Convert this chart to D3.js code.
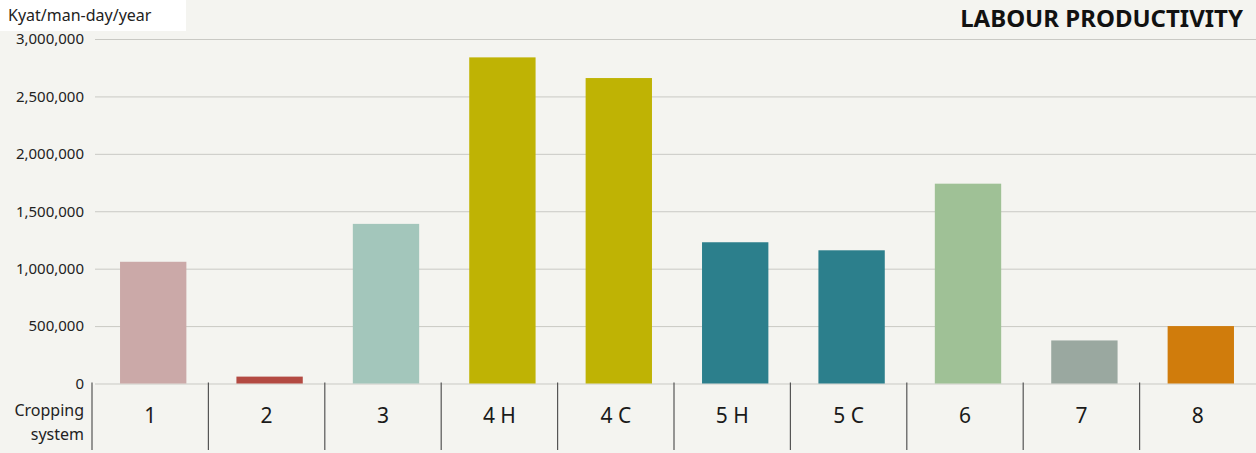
<!DOCTYPE html>
<html lang="en">
<head>
    <meta charset="UTF-8">
    <title>Labour productivity</title>
    <style>
        body { margin: 0; background: #f4f4f0; }
        svg { display: block; font-family: "Noto Sans", "Open Sans", sans-serif; }
    </style>
</head>
<body>
    <script src="https://d3js.org/d3.v7.min.js"></script>
    <script>
        // data
        let systems = ['1', '2', '3', '4 H', '4 C', '5 H', '5 C', '6', '7', '8'];
        let values = [1060000, 60000, 1390000, 2840000, 2660000, 1230000, 1160000, 1740000, 375000, 500000];
        let colors = ['#cba9a8', '#b34a42', '#a3c6bb', '#bfb304', '#bfb304', '#2c7f8c', '#2c7f8c', '#9fc196', '#9aa8a0', '#d07c0c'];
        let yTicks = [0, 500000, 1000000, 1500000, 2000000, 2500000, 3000000];

        let W = 1256, H = 453;
        let m = { t: 39, l: 92, r: 0, b: 70 };
        let base = 383.5;
        let shift = 3; // bars sit a little right of the band centre

        let s = d3.select('body').append('svg')
            .attr('width', W)
            .attr('height', H);

        s.append('rect').attr('width', W).attr('height', H).attr('fill', '#f4f4f0');

        let x = d3.scaleBand().domain(systems).range([m.l, W - m.r]).paddingInner(0.43).paddingOuter(0.215);
        let y = d3.scaleLinear().domain([0, 3000000]).range([base, m.t]);

        // gridlines + tick labels
        let yAxis = s.append('g')
            .attr('transform', `translate(${m.l},0)`)
            .call(d3.axisLeft(y).tickValues(yTicks).tickSize(-(W - m.l)).tickFormat(d3.format(',')).tickPadding(8));
        yAxis.select('.domain').remove();
        yAxis.selectAll('.tick line').attr('stroke', '#c9c9c4').attr('stroke-width', 1).attr('x1', 3);
        yAxis.selectAll('.tick text').attr('fill', '#222').style('font-size', '15px')
            .attr('font-family', '"Noto Sans", sans-serif');

        // bars
        s.selectAll('.bar')
            .data(systems)
            .enter().append('rect')
            .attr('class', 'bar')
            .attr('x', d => x(d) + shift)
            .attr('width', x.bandwidth())
            .attr('y', (d, i) => y(values[i]))
            .attr('height', (d, i) => base - y(values[i]))
            .attr('fill', (d, i) => colors[i]);

        // category band dividers and labels
        let step = x.step();
        s.selectAll('.div')
            .data(systems)
            .enter().append('line')
            .attr('x1', d => x(d) - (step - x.bandwidth()) / 2)
            .attr('x2', d => x(d) - (step - x.bandwidth()) / 2)
            .attr('y1', base - 1)
            .attr('y2', 450)
            .attr('stroke', '#555')
            .attr('stroke-width', 1.2);

        s.selectAll('.cat')
            .data(systems)
            .enter().append('text')
            .attr('x', d => x(d) + x.bandwidth() / 2)
            .attr('y', 423)
            .attr('text-anchor', 'middle')
            .style('font-size', '21px')
            .attr('fill', '#1a1a1a')
            .text(d => d);

        s.append('text').attr('x', 84).attr('y', 416).attr('text-anchor', 'end')
            .style('font-size', '16px').attr('fill', '#222').text('Cropping');
        s.append('text').attr('x', 84).attr('y', 440).attr('text-anchor', 'end')
            .style('font-size', '16px').attr('fill', '#222').text('system');

        // unit label
        s.append('rect').attr('x', 0).attr('y', 0).attr('width', 186).attr('height', 31).attr('fill', '#fff');
        s.append('text').attr('x', 8).attr('y', 21)
            .style('font-size', '16px').attr('fill', '#222').text('Kyat/man-day/year');

        // title
        s.append('text').attr('x', 1243).attr('y', 27).attr('text-anchor', 'end')
            .style('font-size', '24px').style('font-weight', 'bold').attr('fill', '#111')
            .text('LABOUR PRODUCTIVITY');
    </script>
</body>
</html>
